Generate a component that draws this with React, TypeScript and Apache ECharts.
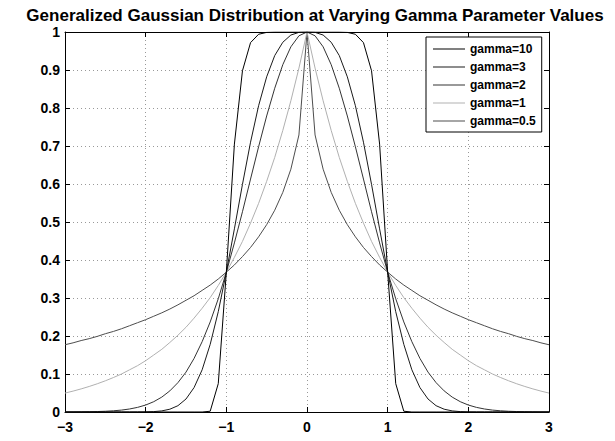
import React, { useEffect, useRef } from "react";
import * as echarts from "echarts";

const title = "Generalized Gaussian Distribution at Varying Gamma Parameter Values";
const seriesNames = ["gamma=10", "gamma=3", "gamma=2", "gamma=1", "gamma=0.5"];
const seriesColors = ["#000000", "#1a1a1a", "#333333", "#b0b0b0", "#4d4d4d"];

const xs = [
  -3.0, -2.9, -2.8, -2.7, -2.6, -2.5, -2.4, -2.3, -2.2, -2.1,
  -2.0, -1.9, -1.8, -1.7, -1.6, -1.5, -1.4, -1.3, -1.2, -1.1,
  -1.0, -0.9, -0.8, -0.7, -0.6, -0.5, -0.4, -0.3, -0.2, -0.1,
  0.0,
  0.1, 0.2, 0.3, 0.4, 0.5, 0.6, 0.7, 0.8, 0.9, 1.0,
  1.1, 1.2, 1.3, 1.4, 1.5, 1.6, 1.7, 1.8, 1.9, 2.0,
  2.1, 2.2, 2.3, 2.4, 2.5, 2.6, 2.7, 2.8, 2.9, 3.0,
];

const gamma10 = [
  0, 0, 0, 0, 0, 0, 0, 0, 0, 0,
  0, 0, 0, 0, 0, 0, 0, 0, 0.002, 0.0747,
  0.368, 0.705, 0.898, 0.972, 0.994, 0.999, 1, 1, 1, 1,
  1,
  1, 1, 1, 1, 0.999, 0.994, 0.972, 0.898, 0.705, 0.368,
  0.0747, 0.002, 0, 0, 0, 0, 0, 0, 0, 0,
  0, 0, 0, 0, 0, 0, 0, 0, 0, 0,
];

const gamma3 = [
  0, 0, 0, 0, 0, 0, 0, 0, 0, 0.0001,
  0.0003, 0.001, 0.0029, 0.0074, 0.0166, 0.0342, 0.0643, 0.111, 0.178, 0.264,
  0.368, 0.482, 0.599, 0.71, 0.806, 0.882, 0.938, 0.973, 0.992, 0.999,
  1,
  0.999, 0.992, 0.973, 0.938, 0.882, 0.806, 0.71, 0.599, 0.482, 0.368,
  0.264, 0.178, 0.111, 0.0643, 0.0342, 0.0166, 0.0074, 0.0029, 0.001, 0.0003,
  0.0001, 0, 0, 0, 0, 0, 0, 0, 0, 0,
];

const gamma2 = [
  0.0001, 0.0002, 0.0004, 0.0007, 0.0012, 0.0019, 0.0032, 0.005, 0.0079, 0.0122,
  0.0183, 0.0271, 0.0392, 0.0556, 0.0773, 0.105, 0.141, 0.185, 0.237, 0.298,
  0.368, 0.445, 0.527, 0.613, 0.698, 0.779, 0.852, 0.914, 0.961, 0.99,
  1,
  0.99, 0.961, 0.914, 0.852, 0.779, 0.698, 0.613, 0.527, 0.445, 0.368,
  0.298, 0.237, 0.185, 0.141, 0.105, 0.0773, 0.0556, 0.0392, 0.0271, 0.0183,
  0.0122, 0.0079, 0.005, 0.0032, 0.0019, 0.0012, 0.0007, 0.0004, 0.0002, 0.0001,
];

const gamma1 = [
  0.0498, 0.055, 0.0608, 0.0672, 0.0743, 0.0821, 0.0907, 0.1, 0.111, 0.122,
  0.135, 0.15, 0.165, 0.183, 0.202, 0.223, 0.247, 0.273, 0.301, 0.333,
  0.368, 0.407, 0.449, 0.497, 0.549, 0.607, 0.67, 0.741, 0.819, 0.905,
  1,
  0.905, 0.819, 0.741, 0.67, 0.607, 0.549, 0.497, 0.449, 0.407, 0.368,
  0.333, 0.301, 0.273, 0.247, 0.223, 0.202, 0.183, 0.165, 0.15, 0.135,
  0.122, 0.111, 0.1, 0.0907, 0.0821, 0.0743, 0.0672, 0.0608, 0.055, 0.0498,
];

const gamma05 = [
  0.177, 0.182, 0.188, 0.193, 0.199, 0.206, 0.212, 0.219, 0.227, 0.235,
  0.243, 0.252, 0.261, 0.271, 0.282, 0.294, 0.306, 0.32, 0.334, 0.35,
  0.368, 0.387, 0.409, 0.433, 0.461, 0.493, 0.531, 0.578, 0.639, 0.729,
  1,
  0.729, 0.639, 0.578, 0.531, 0.493, 0.461, 0.433, 0.409, 0.387, 0.368,
  0.35, 0.334, 0.32, 0.306, 0.294, 0.282, 0.271, 0.261, 0.252, 0.243,
  0.235, 0.227, 0.219, 0.212, 0.206, 0.199, 0.193, 0.188, 0.182, 0.177,
];

const allSeries = [gamma10, gamma3, gamma2, gamma1, gamma05];

const FONT = "'Liberation Sans', Arial, Helvetica, sans-serif";

export default function App() {
  const ref = useRef<HTMLDivElement>(null);

  useEffect(() => {
    if (!ref.current) return;
    const chart = echarts.init(ref.current, null, { renderer: "svg" });
    const boxAxis = {
      show: true,
      onZero: false,
      lineStyle: { color: "#000", width: 1 },
    };
    const tick = { show: true, inside: true, length: 5, lineStyle: { color: "#000" } };
    const option: any = {
      animation: false,
      backgroundColor: "#fff",
      title: {
        text: title,
        left: 310,
        textAlign: "center",
        top: 2,
        textStyle: { fontFamily: FONT, fontWeight: "bold", fontSize: 17, color: "#000" },
      },
      legend: {
        orient: "vertical",
        left: 426,
        top: 37,
        data: seriesNames,
        icon: "rect",
        itemWidth: 32,
        itemHeight: 1,
        itemGap: 6,
        padding: [6, 6, 5, 7],
        borderColor: "#000",
        borderWidth: 1,
        backgroundColor: "#fff",
        textStyle: { fontFamily: FONT, fontWeight: "bold", fontSize: 12, color: "#000" },
      },
      grid: { left: 65, right: 66, top: 32, bottom: 29 },
      xAxis: [
        {
          type: "value",
          min: -3,
          max: 3,
          interval: 1,
          position: "bottom",
          axisLine: boxAxis,
          axisTick: tick,
          axisLabel: {
            fontFamily: FONT,
            fontWeight: "bold",
            fontSize: 14,
            color: "#000",
            margin: 8,
            formatter: (v: number) => String(v).replace("-", "\u2212"),
          },
          splitLine: { show: true, lineStyle: { color: "#999", type: [1, 3], width: 1 } },
        },
        {
          type: "value",
          min: -3,
          max: 3,
          interval: 1,
          position: "top",
          axisLine: boxAxis,
          axisTick: tick,
          axisLabel: { show: false },
          splitLine: { show: false },
        },
      ],
      yAxis: [
        {
          type: "value",
          min: 0,
          max: 1,
          interval: 0.1,
          position: "left",
          axisLine: boxAxis,
          axisTick: tick,
          axisLabel: {
            fontFamily: FONT,
            fontWeight: "bold",
            fontSize: 14,
            color: "#000",
            margin: 5,
          },
          splitLine: { show: true, lineStyle: { color: "#999", type: [1, 3], width: 1 } },
        },
        {
          type: "value",
          min: 0,
          max: 1,
          interval: 0.1,
          position: "right",
          axisLine: boxAxis,
          axisTick: tick,
          axisLabel: { show: false },
          splitLine: { show: false },
        },
      ],
      series: allSeries.map((vals, k) => ({
        name: seriesNames[k],
        type: "line",
        xAxisIndex: 0,
        yAxisIndex: 0,
        symbol: "none",
        showSymbol: false,
        color: seriesColors[k],
        lineStyle: { color: seriesColors[k], width: 1 },
        data: xs.map((x, i) => [x, vals[i]]),
        z: 5 - k,
      })),
    };
    chart.setOption(option);
    return () => chart.dispose();
  }, []);

  return <div ref={ref} style={{ width: 615, height: 441, margin: -8 }} />;
}
